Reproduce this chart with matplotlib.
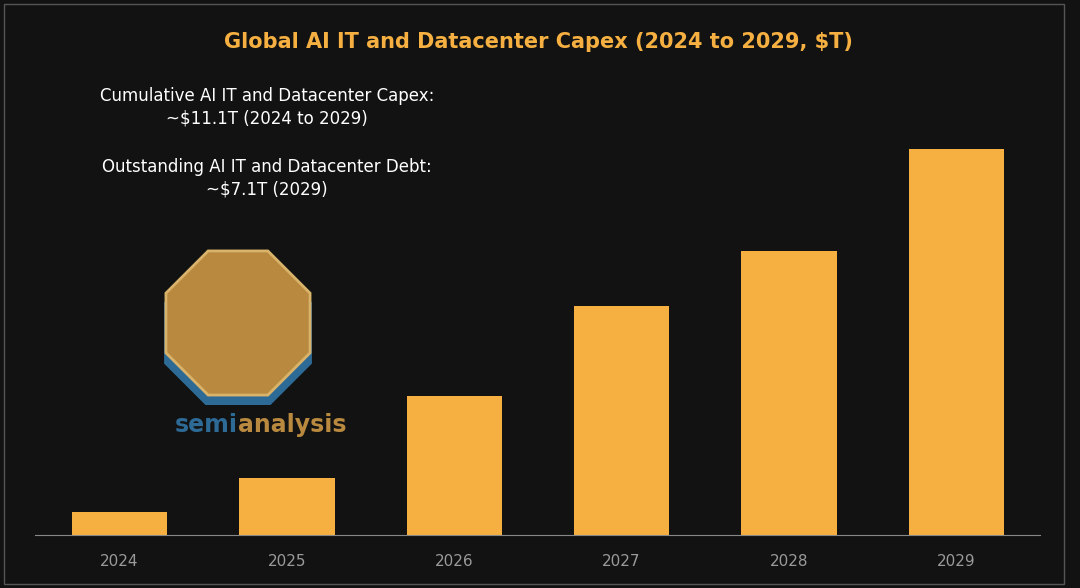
import matplotlib.pyplot as plt
from matplotlib.patches import RegularPolygon, Rectangle

years = ["2024", "2025", "2026", "2027", "2028", "2029"]
capex = [0.23, 0.57, 1.38, 2.27, 2.82, 3.83]

W, H = 1080, 588
fig = plt.figure(figsize=(W / 100, H / 100), dpi=100)
fig.patch.set_facecolor("#121212")
fig.patches.append(Rectangle((4 / W, 4 / H), 1060 / W, 580 / H, transform=fig.transFigure,
                             fill=False, edgecolor="#555555", linewidth=1))

top_px, base_px = 130, 535
ax = fig.add_axes([35 / W, 1 - base_px / H, 1005 / W, (base_px - top_px) / H])
ax.set_facecolor("#121212")
ax.bar(range(len(years)), capex, width=0.57, color="#F5B041")
ax.set_xlim(-0.505, 5.5)
ax.set_ylim(0, (base_px - top_px) * 0.00993)
ax.set_xticks(range(len(years)), years)
ax.tick_params(axis="x", length=0, colors="#9a9a9a", labelsize=11, pad=14)
ax.set_yticks([])
for s in ["top", "left", "right"]:
    ax.spines[s].set_visible(False)
ax.spines["bottom"].set_color("#888888")

fig.text(538 / W, 1 - 42 / H, "Global AI IT and Datacenter Capex (2024 to 2029, $T)",
         ha="center", va="center", color="#F5B041", fontsize=15, fontweight="bold")
fig.text(267 / W, 1 - 107 / H, "Cumulative AI IT and Datacenter Capex:\n~$11.1T (2024 to 2029)",
         ha="center", va="center", color="white", fontsize=12, linespacing=1.3)
fig.text(267 / W, 1 - 178 / H, "Outstanding AI IT and Datacenter Debt:\n~$7.1T (2029)",
         ha="center", va="center", color="white", fontsize=12, linespacing=1.3)

# logo placeholder
lax = fig.add_axes([150 / W, 1 - 405 / H, 176 / W, 160 / H])
lax.set_xlim(-88, 88)
lax.set_ylim(-80, 80)
lax.axis("off")
lax.add_patch(RegularPolygon((0, -8), 8, radius=80, orientation=0.3927,
                             facecolor="#2E6A96", edgecolor="none"))
lax.add_patch(RegularPolygon((0, 2), 8, radius=78, orientation=0.3927,
                             facecolor="#B8893F", edgecolor="#D9B36A", linewidth=2))
fig.text(238 / W, 1 - 425 / H, "semi", ha="right", va="center", color="#2E6A96",
         fontsize=17, fontweight="bold")
fig.text(238 / W, 1 - 425 / H, "analysis", ha="left", va="center", color="#B8893F",
         fontsize=17, fontweight="bold")

fig.savefig("out.png", dpi=100, facecolor=fig.get_facecolor())
